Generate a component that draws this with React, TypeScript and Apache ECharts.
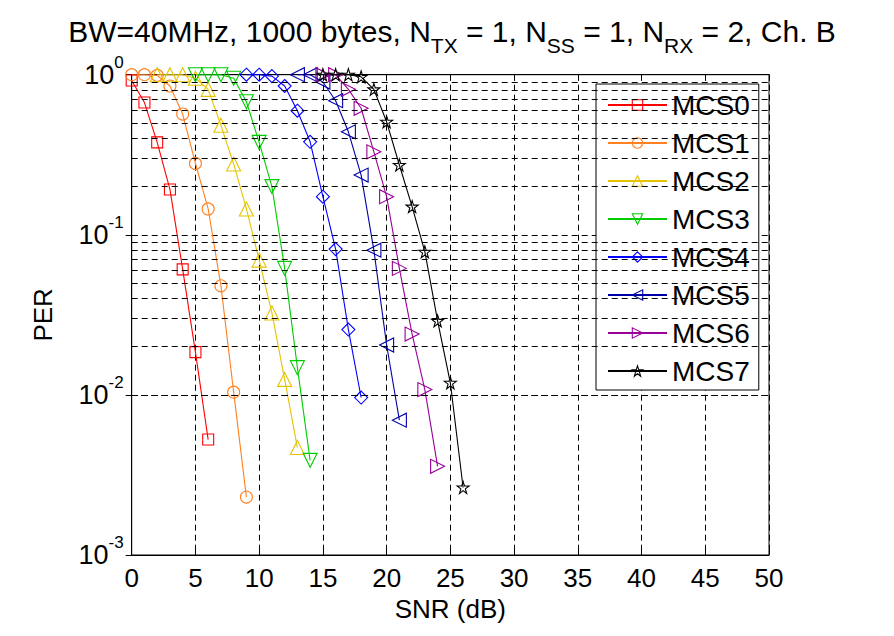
import React, { useEffect, useRef } from "react";
import * as echarts from "echarts";

const FONT = "Liberation Sans, Arial, sans-serif";

const seriesNames = ["MCS0", "MCS1", "MCS2", "MCS3", "MCS4", "MCS5", "MCS6", "MCS7"];
const seriesColors = ["#ff0000", "#ff8020", "#e6c300", "#00cc00", "#0000ff", "#0000a8", "#990099", "#000000"];

const snrMCS0 = [0, 1, 2, 3, 4, 5, 6];
const perMCS0 = [0.92, 0.67, 0.378, 0.192, 0.0608, 0.0185, 0.00526];
const snrMCS1 = [0, 1, 2, 3, 4, 5, 6, 7, 8, 9];
const perMCS1 = [1.0, 1.0, 0.99, 0.85, 0.568, 0.279, 0.145, 0.048, 0.0104, 0.0023];
const snrMCS2 = [2, 3, 4, 5, 6, 7, 8, 9, 10, 11, 12, 13];
const perMCS2 = [1.0, 1.0, 1.0, 0.95, 0.81, 0.483, 0.277, 0.145, 0.0695, 0.0325, 0.0125, 0.00469];
const snrMCS3 = [5, 6, 7, 8, 9, 10, 11, 12, 13, 14];
const perMCS3 = [1.0, 1.0, 1.0, 0.95, 0.678, 0.378, 0.2, 0.0617, 0.0148, 0.0039];
const snrMCS4 = [9, 10, 11, 12, 13, 14, 15, 16, 17, 18];
const perMCS4 = [1.0, 1.0, 0.98, 0.85, 0.596, 0.381, 0.173, 0.0814, 0.0256, 0.00963];
const snrMCS5 = [13, 14, 15, 16, 17, 18, 19, 20, 21];
const perMCS5 = [1.0, 1.0, 0.9, 0.688, 0.44, 0.236, 0.0802, 0.0205, 0.00695];
const snrMCS6 = [15, 16, 17, 18, 19, 20, 21, 22, 23, 24];
const perMCS6 = [1.0, 1.0, 0.81, 0.617, 0.33, 0.173, 0.0617, 0.024, 0.0108, 0.00358];
const snrMCS7 = [15, 16, 17, 18, 19, 20, 21, 22, 23, 24, 25, 26];
const perMCS7 = [1.0, 1.0, 1.0, 0.97, 0.81, 0.508, 0.273, 0.15, 0.0783, 0.029, 0.0119, 0.00264];

const allSnr = [snrMCS0, snrMCS1, snrMCS2, snrMCS3, snrMCS4, snrMCS5, snrMCS6, snrMCS7];
const allPer = [perMCS0, perMCS1, perMCS2, perMCS3, perMCS4, perMCS5, perMCS6, perMCS7];

const minorGridValues = [
  0.2, 0.3, 0.4, 0.5, 0.6, 0.7, 0.8, 0.9,
  0.02, 0.03, 0.04, 0.05, 0.06, 0.07, 0.08, 0.09,
  0.002, 0.003, 0.004, 0.005, 0.006, 0.007, 0.008, 0.009,
];

const STAR = "path://M50,2 L61,37 L98,37 L68,59 L79,95 L50,73 L21,95 L32,59 L2,37 L39,37 Z";
const symbols = ["rect", "circle", "triangle", "triangle", "diamond", "triangle", "triangle", STAR];
const rotations = [0, 0, 0, 180, 0, 90, -90, 0];
const sizes = [11, 12, 14, 14, 13, 14, 14, 12];

const DASH = [6, 4];
const CLEAR = "rgba(0,0,0,0)";

export default function App() {
  const ref = useRef<HTMLDivElement>(null);
  useEffect(() => {
    const chart = echarts.init(ref.current!, null, { renderer: "svg" });
    const lineSeries = seriesNames.map((name, i) => ({
      name,
      type: "line",
      data: allSnr[i].map((x, j) => [x, allPer[i][j]]),
      symbol: symbols[i],
      symbolRotate: rotations[i],
      symbolSize: sizes[i],
      showAllSymbol: true,
      clip: false,
      lineStyle: { color: seriesColors[i], width: 1.1 },
      itemStyle: { color: CLEAR, borderColor: seriesColors[i], borderWidth: 1.1 },
      emphasis: { disabled: true },
      z: 3,
    }));
    const gridSeries = {
      name: "minorGrid",
      type: "line",
      data: [],
      silent: true,
      markLine: {
        silent: true,
        symbol: "none",
        label: { show: false },
        lineStyle: { color: "#000", type: DASH, width: 1 },
        emphasis: { disabled: true },
        data: minorGridValues.map((v) => ({ yAxis: v })),
      },
      z: 1,
    };
    const option = {
      animation: false,
      backgroundColor: "#fff",
      title: {
        text:
          "{n|BW=40MHz, 1000 bytes, N}{sub|TX}{n| = 1, N}{sub|SS}{n| = 1, N}{sub|RX}{n| = 2, Ch. B}",
        left: 447,
        textAlign: "center",
        top: 11,
        textStyle: {
          fontWeight: "normal",
          rich: {
            n: { fontFamily: FONT, fontSize: 30, fontWeight: "normal", color: "#000", lineHeight: 33, verticalAlign: "top" },
            sub: { fontFamily: FONT, fontSize: 21, fontWeight: "normal", color: "#000", lineHeight: 22, padding: [19, 0, 0, 0], verticalAlign: "top" },
          },
        },
      },
      legend: {
        data: seriesNames.map((n, i) => ({
          name: n,
          itemStyle: { color: CLEAR, borderColor: seriesColors[i], borderWidth: 1.1 },
        })),
        orient: "vertical",
        left: 596,
        top: 84,
        width: 165,
        padding: [6, 9, 4, 11],
        itemGap: 8,
        itemWidth: 59,
        itemHeight: 13,
        backgroundColor: "#fff",
        borderColor: "#000",
        borderWidth: 1,
        borderRadius: 0,
        selectedMode: false,
        textStyle: { fontFamily: FONT, fontSize: 28, color: "#000", lineHeight: 30, padding: [0, 0, 0, 0] },
      },
      grid: {
        left: 131.7,
        right: 125,
        top: 74.7,
        bottom: 81,
        show: true,
        borderColor: "#000",
        borderWidth: 1,
        backgroundColor: "transparent",
      },
      xAxis: [
        {
          type: "value",
          min: 0,
          max: 50,
          interval: 5,
          name: "SNR (dB)",
          nameLocation: "middle",
          nameGap: 40,
          nameTextStyle: { fontFamily: FONT, fontSize: 26, color: "#000" },
          axisLine: { show: true, lineStyle: { color: "#000", width: 1 } },
          axisTick: { show: true, inside: true, length: 6, lineStyle: { color: "#000" } },
          axisLabel: { fontFamily: FONT, fontSize: 26, color: "#000", margin: 10 },
          splitLine: { show: true, lineStyle: { color: "#000", type: DASH, width: 1 } },
        },
        {
          type: "value",
          position: "top",
          min: 0,
          max: 50,
          interval: 5,
          axisLine: { show: true, lineStyle: { color: "#000" } },
          axisTick: { show: true, inside: true, length: 6, lineStyle: { color: "#000" } },
          axisLabel: { show: false },
          splitLine: { show: false },
        },
      ],
      yAxis: [
        {
          type: "log",
          logBase: 10,
          min: 0.001,
          max: 1,
          name: "PER",
          nameLocation: "middle",
          nameGap: 76,
          nameTextStyle: { fontFamily: FONT, fontSize: 26, color: "#000" },
          axisLine: { show: true, lineStyle: { color: "#000", width: 1 } },
          axisTick: { show: true, inside: true, length: 6, lineStyle: { color: "#000" } },
          axisLabel: {
            margin: 8,
            formatter: (v: number) => {
              const e = Math.round(Math.log10(v));
              return "{b|10}{s|" + e + "}";
            },
            rich: {
              b: { fontFamily: FONT, fontSize: 27, color: "#000", lineHeight: 42, verticalAlign: "middle" },
              s: { fontFamily: FONT, fontSize: 17, color: "#000", lineHeight: 17, verticalAlign: "top" },
            },
          },
          splitLine: { show: true, lineStyle: { color: "#000", type: DASH, width: 1 } },
        },
        {
          type: "log",
          logBase: 10,
          min: 0.001,
          max: 1,
          position: "right",
          axisLine: { show: true, lineStyle: { color: "#000" } },
          axisTick: { show: true, inside: true, length: 6, lineStyle: { color: "#000" } },
          axisLabel: { show: false },
          splitLine: { show: false },
        },
      ],
      series: [gridSeries, ...lineSeries],
    };
    chart.setOption(option as any);
    return () => chart.dispose();
  }, []);
  return (
    <div
      ref={ref}
      style={{ position: "fixed", left: 0, top: 0, width: 894, height: 636, background: "#fff" }}
    />
  );
}
